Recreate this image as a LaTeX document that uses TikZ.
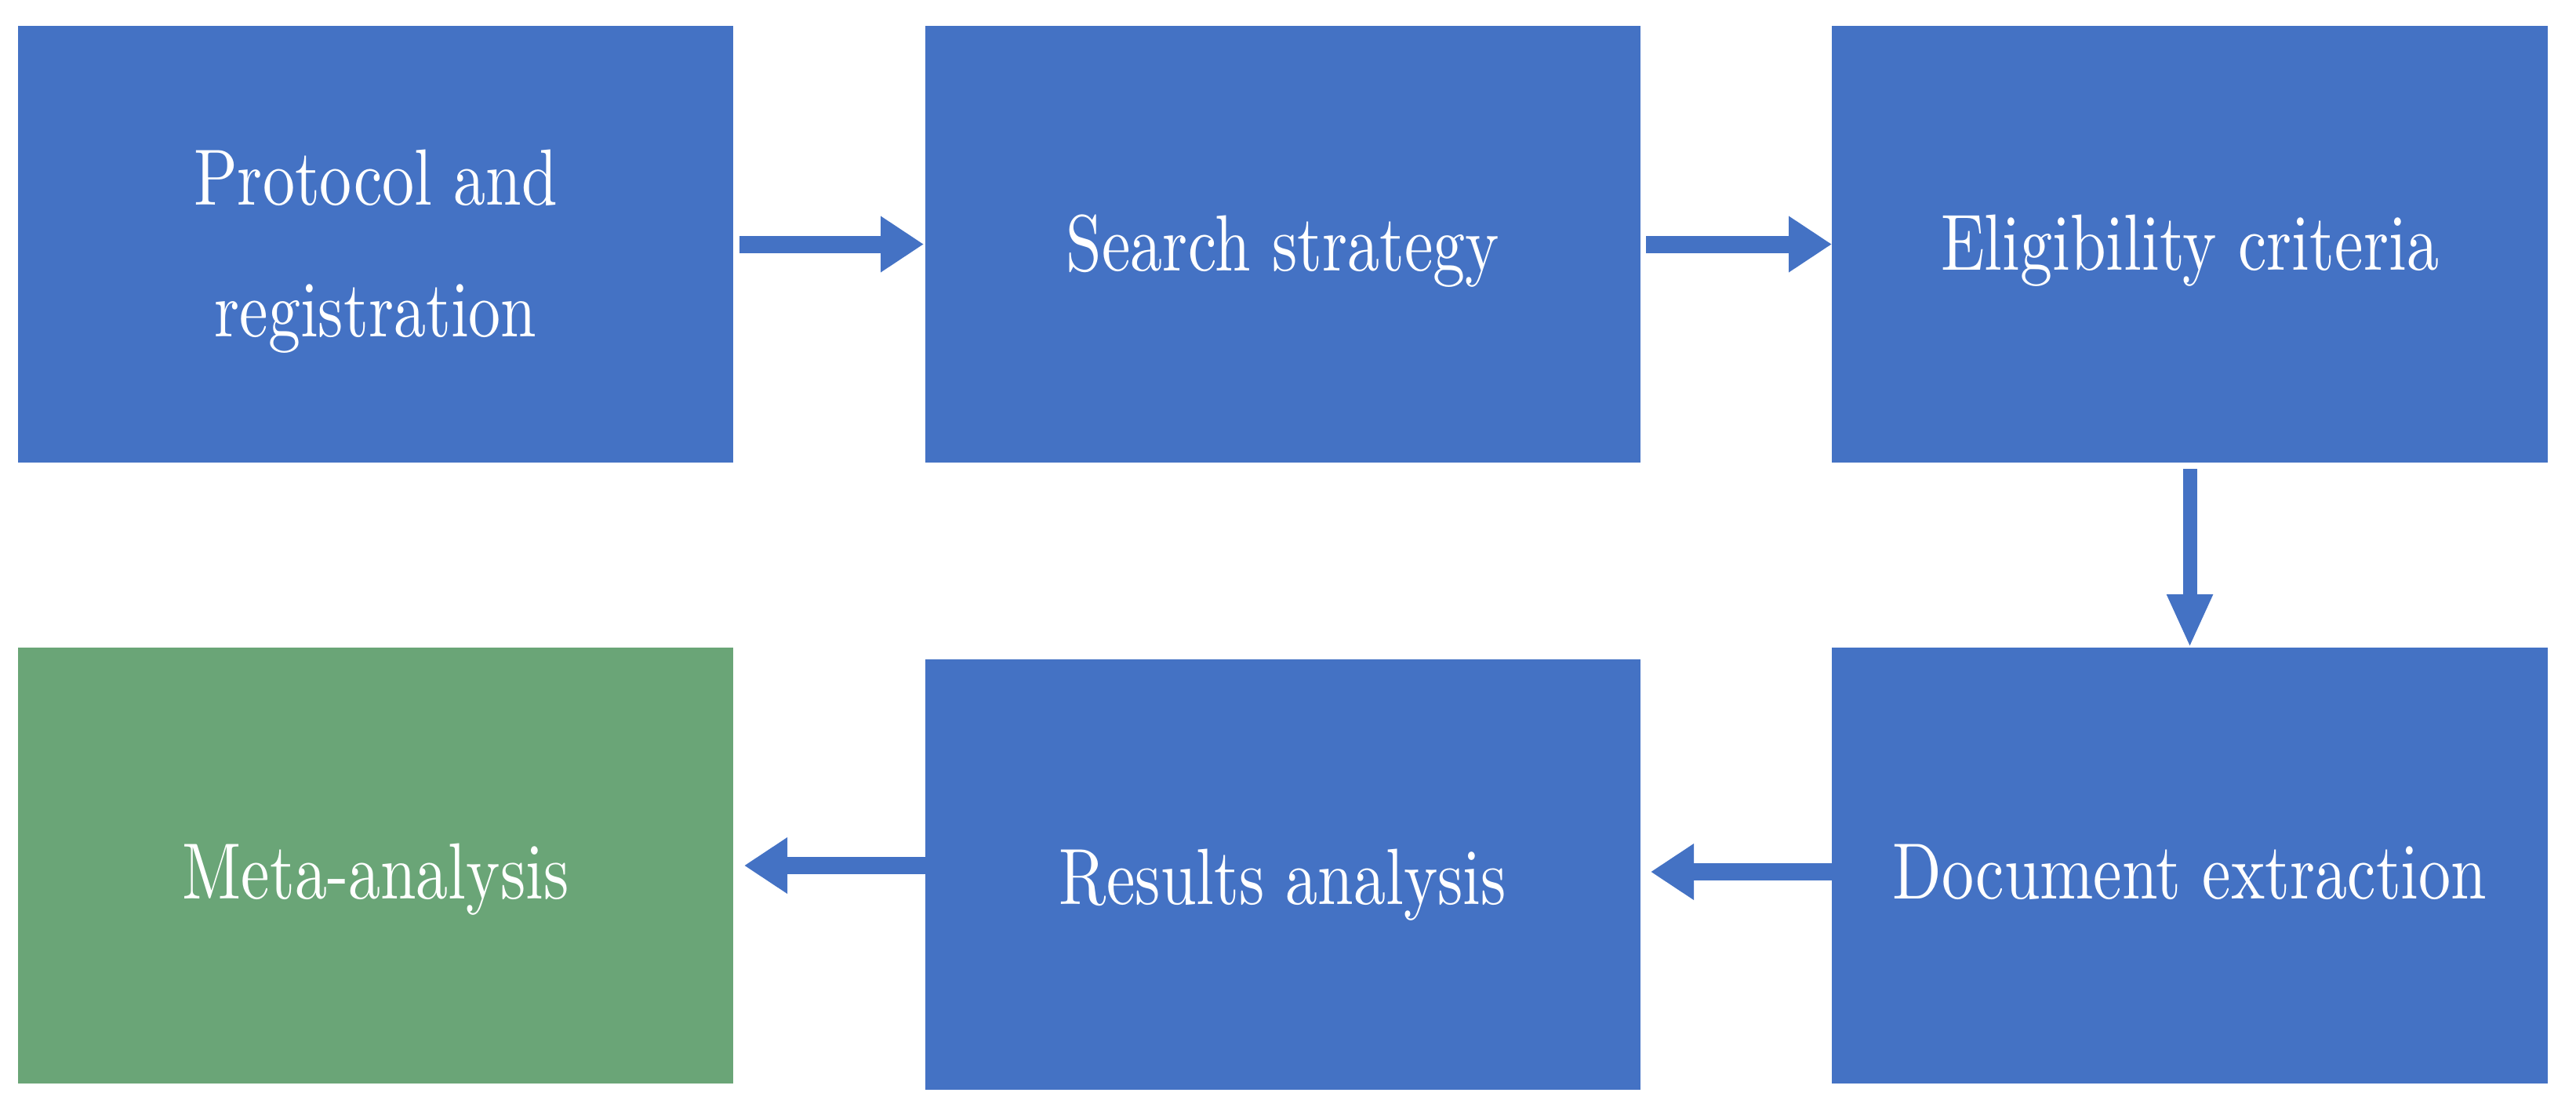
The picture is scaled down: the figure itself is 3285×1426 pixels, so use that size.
\documentclass[tikz,border=0pt]{standalone}
\usepackage{fontspec}
\setmainfont{lmroman10-regular.otf}
\usepackage{graphicx}
\usetikzlibrary{arrows.meta}
\definecolor{boxblue}{HTML}{4472C4}
\definecolor{boxgreen}{HTML}{6AA577}
\newcommand{\boxtxt}[2]{\raisebox{#1}[0pt][0pt]{\scalebox{1}[1.24]{#2}}}
\tikzset{
  stepbox/.style={rectangle, fill=boxblue, draw=none, inner sep=0pt, outer sep=0pt,
    text=white, font=\fontsize{82}{135.5}\selectfont},
  greenbox/.style={stepbox, fill=boxgreen},
  harr/.style={draw=boxblue, line width=22pt, -{Triangle[length=55pt,width=68pt]}},
  varr/.style={draw=boxblue, line width=18pt, -{Triangle[length=68pt,width=54pt]}}
}
\begin{document}
\begin{tikzpicture}[x=1pt,y=-1pt]
\useasboundingbox (0,0) rectangle (3285,1426);
\node[stepbox, minimum width=912pt, minimum height=557pt] (b1) at (479,311.5)
  {\boxtxt{50.5pt}{\begin{tabular}[t]{@{}c@{}}Protocol and\\registration\end{tabular}}};
\node[stepbox, minimum width=912pt, minimum height=557pt] (b2) at (1636,311.5)
  {\boxtxt{-33.5pt}{Search strategy}};
\node[stepbox, minimum width=913pt, minimum height=557pt] (b3) at (2792.5,311.5)
  {\boxtxt{-32.5pt}{Eligibility criteria}};
\node[greenbox, minimum width=912pt, minimum height=556pt] (b4) at (479,1104)
  {\boxtxt{-42pt}{Meta-analysis}};
\node[stepbox, minimum width=912pt, minimum height=549pt] (b5) at (1636,1115.5)
  {\boxtxt{-37.5pt}{Results analysis}};
\node[stepbox, minimum width=913pt, minimum height=556pt] (b6) at (2792.5,1104)
  {\boxtxt{-42pt}{Document extraction}};
\draw[harr, shorten <=8pt, shorten >=2pt] (b1.east) -- (b2.west);
\draw[harr, shorten <=7pt] (b2.east) -- (b3.west);
\draw[varr, shorten <=8pt] (b3.south) -- (b6.north);
\draw[harr, shorten >=13pt] ([yshift=-8pt]b6.west) -- ([yshift=-8pt]b6.west -| b5.east);
\draw[harr, shorten >=14pt] (b4.east -| b5.west) -- (b4.east);
\end{tikzpicture}
\end{document}
